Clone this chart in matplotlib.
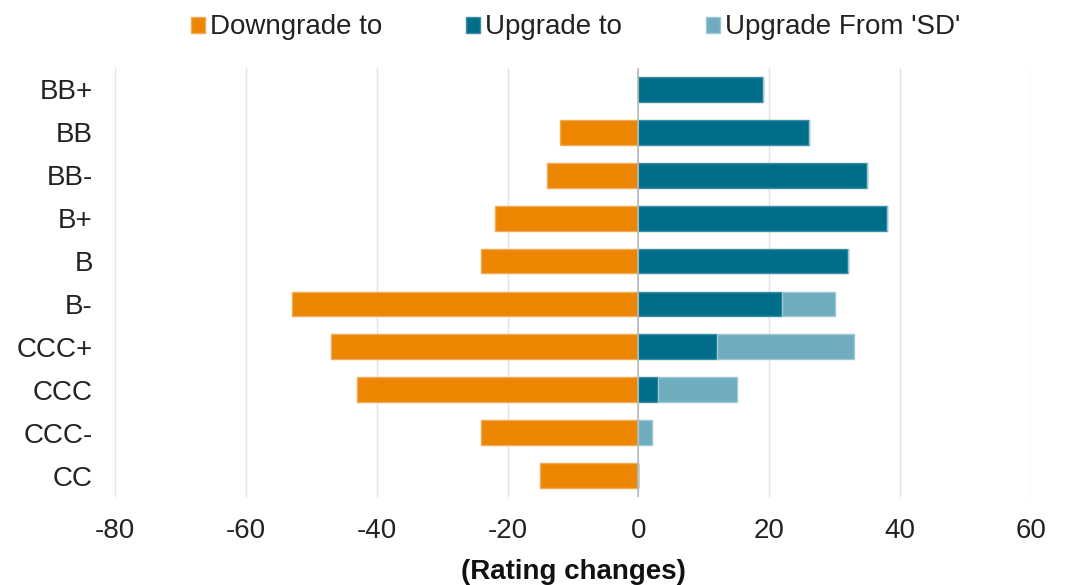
import matplotlib
matplotlib.use("Agg")
import matplotlib.pyplot as plt
import numpy as np

# ratings, top to bottom
ratings = ['BB+', 'BB', 'BB-', 'B+', 'B', 'B-', 'CCC+', 'CCC', 'CCC-', 'CC']
downgrade = [0, -12, -14, -22, -24, -53, -47, -43, -24, -15]
upgrade = [19, 26, 35, 38, 32, 22, 12, 3, 0, 0]
upgrade_sd = [0, 0, 0, 0, 0, 8, 21, 12, 2, 0]
xticks = [-80, -60, -40, -20, 0, 20, 40, 60]

plt.rcParams['font.family'] = ['Liberation Sans', 'DejaVu Sans']

orange = '#EC8500'
dark = '#006E89'
light = '#6FADBE'

fig = plt.figure(figsize=(10.76, 5.85), dpi=100)
ax = fig.add_axes([0.1069, 0.1504, 0.8513, 0.7334])

y = np.arange(len(ratings))
h = 0.58
ax.barh(y, downgrade, height=h, color=orange, edgecolor='#F3AA55', linewidth=1, label='Downgrade to', zorder=3)
ax.barh(y, upgrade, height=h, color=dark, edgecolor='#3F8FA4', linewidth=1, label='Upgrade to', zorder=3)
ax.barh(y, upgrade_sd, left=upgrade, height=h, color=light, edgecolor='#9CC8D4', linewidth=1,
        label="Upgrade From 'SD'", zorder=3)

ax.set_ylim(len(ratings) - 0.5, -0.5)
ax.set_xlim(-80, 60)
ax.set_yticks(y)
ax.set_yticklabels(ratings)
ax.set_xticks(xticks)
ax.set_xticklabels([str(t) for t in xticks])
ax.tick_params(axis='both', length=0, labelsize=20, colors='#222222')
ax.tick_params(axis='y', pad=16)
ax.tick_params(axis='x', pad=15)

for s in ax.spines.values():
    s.set_visible(False)
ax.grid(axis='x', color='#E3E3E3', linewidth=1, zorder=0)
ax.axvline(0, color='#BBBBBB', linewidth=1.2, zorder=4)

ax.set_xlabel('(Rating changes)', fontsize=20, fontweight='bold', labelpad=11, color='#111111')

fig.legend(loc='upper center', bbox_to_anchor=(0.535, 1.018), ncol=3, frameon=False, fontsize=20,
           handlelength=0.5, handleheight=0.5, handletextpad=0.2, columnspacing=3.0, labelcolor='#222222')

fig.savefig('out.png', dpi=100)
